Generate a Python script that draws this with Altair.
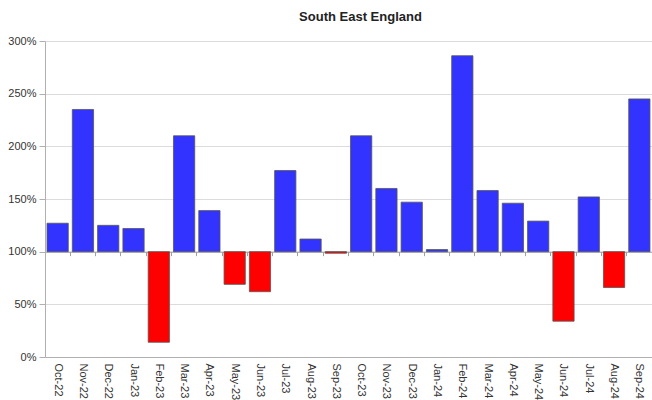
import altair as alt
import pandas as pd

months = ["Oct-22", "Nov-22", "Dec-22", "Jan-23", "Feb-23", "Mar-23", "Apr-23", "May-23",
          "Jun-23", "Jul-23", "Aug-23", "Sep-23", "Oct-23", "Nov-23", "Dec-23", "Jan-24",
          "Feb-24", "Mar-24", "Apr-24", "May-24", "Jun-24", "Jul-24", "Aug-24", "Sep-24"]
values = [127, 235, 125, 122, 14, 210, 139, 69, 62, 177, 112, 98.5,
          210, 160, 147, 102, 286, 158, 146, 129, 34, 152, 66, 245]
y_ticks = [0, 50, 100, 150, 200, 250, 300]

df = pd.DataFrame({
    "month": months,
    "value": values,
    "dir": ["up" if v >= 100 else "down" for v in values],
})

FONT = "Liberation Sans"
W, H = 607, 316
offset_100 = -H * 100 / 300

xscale = alt.Scale(paddingInner=0, paddingOuter=0)
yscale = alt.Scale(domain=[0, 300], nice=False)

base = alt.Chart(df)

bars = base.mark_bar(
    width=alt.RelativeBandSize(0.84), stroke="#555555", strokeWidth=0.8
).encode(
    x=alt.X("month:N", sort=months, scale=xscale,
            axis=alt.Axis(title=None, orient="bottom", labelAngle=90, ticks=False,
                          domain=True, domainColor="#b0b0b0", labelPadding=6,
                          grid=False, labelFont=FONT, labelFontSize=11,
                          labelColor="#333333")),
    y=alt.Y("value:Q", scale=yscale,
            axis=alt.Axis(title=None, values=y_ticks, labelExpr="datum.value + '%'",
                          tickSize=6, labelPadding=3, tickColor="#b0b0b0",
                          domainColor="#b0b0b0", gridColor="#dcdcdc",
                          labelFont=FONT, labelFontSize=11, labelColor="#333333")),
    y2=alt.datum(100),
    color=alt.Color("dir:N", scale=alt.Scale(domain=["up", "down"],
                                             range=["#3333ff", "#ff0000"]),
                    legend=None),
)

tick_axis = base.mark_point(opacity=0).encode(
    x=alt.X("month:N", sort=months, scale=xscale,
            axis=alt.Axis(title=None, orient="bottom", offset=offset_100, labels=False,
                          ticks=True, tickSize=4, bandPosition=0, domain=True,
                          domainColor="#a0a0a0", tickColor="#a0a0a0", grid=False)),
)

chart = alt.layer(bars, tick_axis).resolve_axis(x="independent").properties(
    width=W, height=H,
    autosize=alt.AutoSizeParams(type="none"),
    padding={"left": 45, "top": 41, "right": 0, "bottom": 43},
    title=alt.Title("South East England", font=FONT, fontSize=13, fontWeight="bold",
                    color="#222222", anchor="middle", dx=12, offset=1,
                    baseline="alphabetic"),
).configure_view(strokeWidth=0)

chart.save("out.html", embed_options={"renderer": "svg", "actions": False})
